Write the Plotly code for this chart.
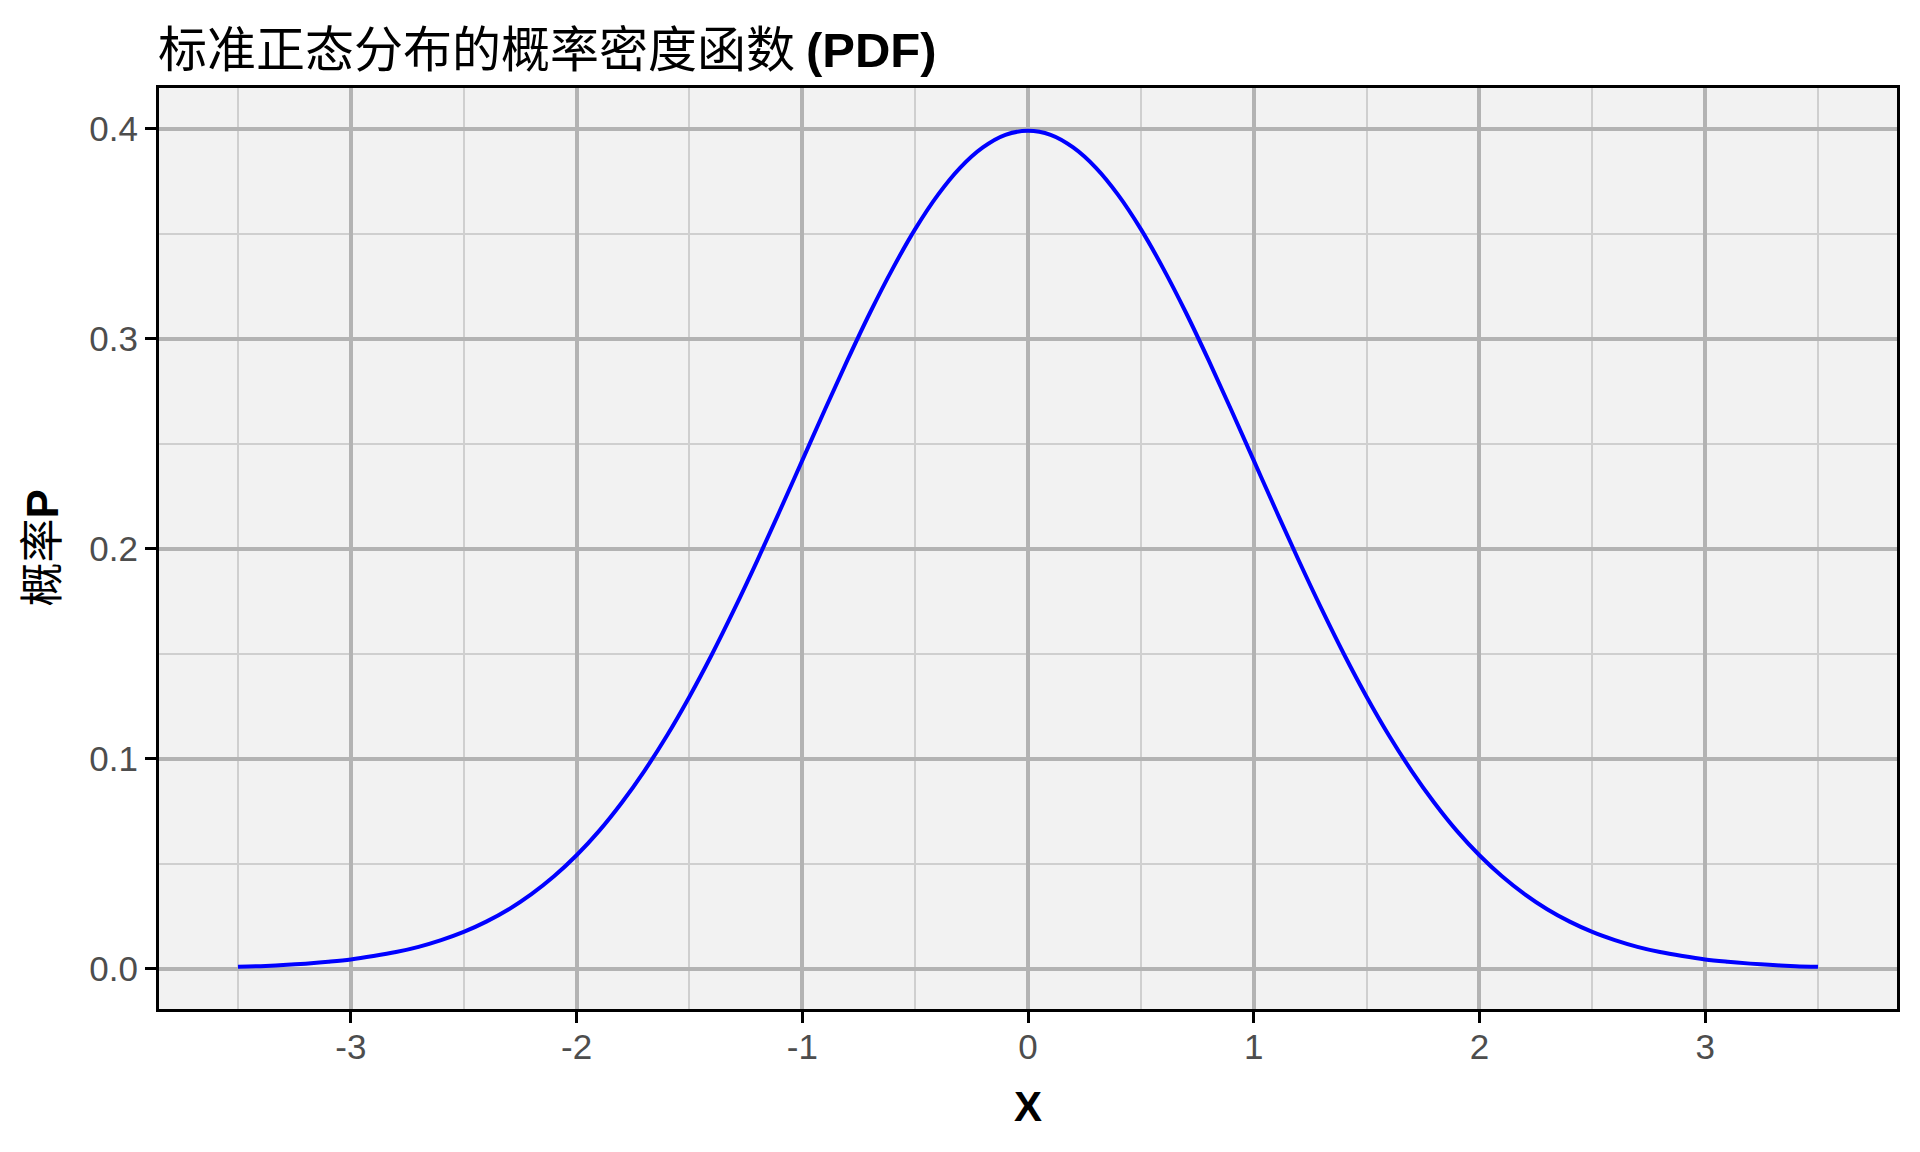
import plotly.graph_objects as go

# values
x_vals = [-3.5, -3.4, -3.3, -3.2, -3.1, -3.0, -2.9, -2.8, -2.7, -2.6, -2.5, -2.4,
          -2.3, -2.2, -2.1, -2.0, -1.9, -1.8, -1.7, -1.6, -1.5, -1.4, -1.3, -1.2,
          -1.1, -1.0, -0.9, -0.8, -0.7, -0.6, -0.5, -0.4, -0.3, -0.2, -0.1, 0.0,
          0.1, 0.2, 0.3, 0.4, 0.5, 0.6, 0.7, 0.8, 0.9, 1.0, 1.1, 1.2,
          1.3, 1.4, 1.5, 1.6, 1.7, 1.8, 1.9, 2.0, 2.1, 2.2, 2.3, 2.4,
          2.5, 2.6, 2.7, 2.8, 2.9, 3.0, 3.1, 3.2, 3.3, 3.4, 3.5]
pdf_vals = [0.0009, 0.0012, 0.0017, 0.0024, 0.0033, 0.0044, 0.0060, 0.0079, 0.0104, 0.0136, 0.0175, 0.0224,
            0.0283, 0.0355, 0.0440, 0.0540, 0.0656, 0.0790, 0.0941, 0.1109, 0.1295, 0.1497, 0.1714, 0.1942,
            0.2179, 0.2420, 0.2661, 0.2897, 0.3123, 0.3332, 0.3521, 0.3683, 0.3814, 0.3910, 0.3970, 0.3989,
            0.3970, 0.3910, 0.3814, 0.3683, 0.3521, 0.3332, 0.3123, 0.2897, 0.2661, 0.2420, 0.2179, 0.1942,
            0.1714, 0.1497, 0.1295, 0.1109, 0.0941, 0.0790, 0.0656, 0.0540, 0.0440, 0.0355, 0.0283, 0.0224,
            0.0175, 0.0136, 0.0104, 0.0079, 0.0060, 0.0044, 0.0033, 0.0024, 0.0017, 0.0012, 0.0009]

x_ticks = [-3, -2, -1, 0, 1, 2, 3]
x_ticktext = ['-3', '-2', '-1', '0', '1', '2', '3']
y_ticks = [0.0, 0.1, 0.2, 0.3, 0.4]

title_text = '标准正态分布的概率密度函数 <b><span style="font-family:Liberation Sans">(PDF)</span></b>'
ylab_text = '概率<b><span style="font-family:Liberation Sans">P</span></b>'

tick_font = dict(family='Liberation Sans', size=35, color='#4D4D4D')

# page body adds an 8px offset, so margins are shifted to compensate
L, R, T, B = 151, 31, 80, 151
plot_w = 1920 - L - R
plot_h = 1152 - T - B

fig = go.Figure()
fig.add_trace(go.Scatter(x=x_vals, y=pdf_vals, mode='lines', line_shape='spline',
                         line=dict(color='#0000FF', width=4), showlegend=False))

axis_common = dict(showline=True, linecolor='black', linewidth=3, mirror=True,
                   ticks='outside', ticklen=11, tickwidth=3, tickcolor='black',
                   gridcolor='#B3B3B3', gridwidth=3.5, zeroline=False,
                   tickfont=tick_font)

fig.update_layout(
    width=1920, height=1152,
    margin=dict(l=L, r=R, t=T, b=B),
    paper_bgcolor='white', plot_bgcolor='#F2F2F2',
    xaxis=dict(range=[-3.85, 3.85], tickvals=x_ticks, ticktext=x_ticktext,
               minor=dict(dtick=0.5, tick0=0.5, showgrid=True, gridcolor='#CFCFCF', gridwidth=2),
               ticklabelstandoff=-6, **axis_common),
    yaxis=dict(range=[-0.0192, 0.4193], tickvals=y_ticks, tickformat='.1f',
               minor=dict(dtick=0.05, tick0=0.05, showgrid=True, gridcolor='#CFCFCF', gridwidth=2),
               ticklabelstandoff=0, **axis_common),
    annotations=[
        dict(text=title_text, xref='paper', yref='paper', x=-3 / plot_w, y=1 + (T - 38) / plot_h,
             xanchor='left', yanchor='middle', showarrow=False,
             font=dict(family='Noto Sans CJK SC', size=49, color='black')),
        dict(text='<b>X</b>', xref='paper', yref='paper', x=0.5, y=-(1106 - 1009) / 921,
             xanchor='center', yanchor='middle', showarrow=False,
             font=dict(family='Liberation Sans', size=42, color='black')),
        dict(text=ylab_text, xref='paper', yref='paper', x=(30 - L) / plot_w, y=0.5,
             xanchor='center', yanchor='middle', showarrow=False, textangle=-90,
             font=dict(family='Noto Sans CJK SC', size=44, color='black')),
    ],
)

fig.write_html('out.html')
